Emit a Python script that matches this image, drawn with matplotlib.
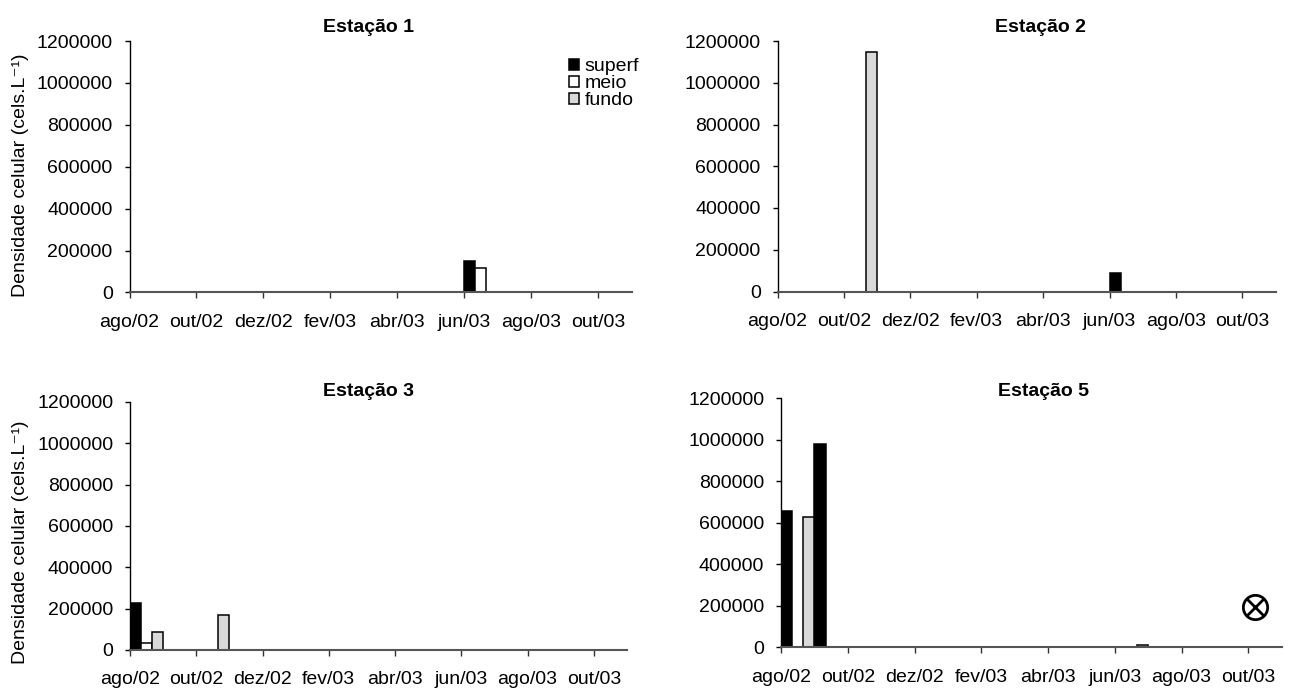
import matplotlib
matplotlib.use('Agg')
import matplotlib.pyplot as plt
from matplotlib.patches import Patch
from matplotlib.ticker import FuncFormatter
import numpy as np

plt.rcParams['font.family'] = ['Liberation Sans', 'DejaVu Sans']

# ---------------- data ----------------
months = ['ago/02', 'set/02', 'out/02', 'nov/02', 'dez/02', 'jan/03', 'fev/03',
          'mar/03', 'abr/03', 'mai/03', 'jun/03', 'jul/03', 'ago/03', 'set/03', 'out/03']
tick_labels = ['ago/02', 'out/02', 'dez/02', 'fev/03', 'abr/03', 'jun/03', 'ago/03', 'out/03']
series_names = ['superf', 'meio', 'fundo']

# Estação 1
e1_superf = [0, 0, 0, 0, 0, 0, 0, 0, 0, 0, 148000, 0, 0, 0, 0]
e1_meio   = [0, 0, 0, 0, 0, 0, 0, 0, 0, 0, 119000, 0, 0, 0, 0]
e1_fundo  = [0, 0, 0, 0, 0, 0, 0, 0, 0, 0, 0, 0, 0, 0, 0]
# Estação 2
e2_superf = [0, 0, 0, 0, 0, 0, 0, 0, 0, 0, 88000, 0, 0, 0, 0]
e2_meio   = [0, 0, 0, 0, 0, 0, 0, 0, 0, 0, 0, 0, 0, 0, 0]
e2_fundo  = [0, 0, 1146000, 0, 0, 0, 0, 0, 0, 0, 0, 0, 0, 0, 0]
# Estação 3
e3_superf = [226000, 0, 0, 0, 0, 0, 0, 0, 0, 0, 0, 0, 0, 0, 0]
e3_meio   = [32000, 0, 0, 0, 0, 0, 0, 0, 0, 0, 0, 0, 0, 0, 0]
e3_fundo  = [86000, 0, 169000, 0, 0, 0, 0, 0, 0, 0, 0, 0, 0, 0, 0]
# Estação 5
e5_superf = [657000, 980000, 0, 0, 0, 0, 0, 0, 0, 0, 0, 0, 0, 0, 0]
e5_meio   = [0, 0, 0, 0, 0, 0, 0, 0, 0, 0, 0, 0, 0, 0, 0]
e5_fundo  = [628000, 0, 0, 0, 0, 0, 0, 0, 0, 0, 10000, 0, 0, 0, 0]
# marker "sem coleta" (⊗) in Estação 5
e5_mark_month = 14.2
e5_mark_value = 196000

# ---------------- styles ----------------
W, H = 1293, 688
FS = 14
styles = [dict(facecolor='black', edgecolor='black'),
          dict(facecolor='white', edgecolor='black'),
          dict(facecolor='#d9d9d9', edgecolor='black')]
bw = 1.0 / 3.0

fig = plt.figure(figsize=(W / 100, H / 100), dpi=100)


def px_axes(l, t, r, b):
    return fig.add_axes([l / W, 1 - b / H, (r - l) / W, (b - t) / H])


def draw(ax, series):
    x = np.arange(len(months))
    for k, (vals, st) in enumerate(zip(series, styles)):
        v = np.asarray(vals, dtype=float)
        m = v > 0
        ax.bar(x[m] + k * bw, v[m], width=bw, align='edge', linewidth=1.1,
               zorder=3, **st)
    ax.set_xlim(0, len(months))
    ax.set_ylim(0, 1200000)
    ax.set_yticks(np.arange(0, 1200001, 200000))
    ax.yaxis.set_major_formatter(FuncFormatter(lambda v, p: f'{int(v)}'))
    ax.set_xticks(x[::2])
    ax.set_xticklabels(tick_labels)
    for s in ('top', 'right'):
        ax.spines[s].set_visible(False)
    ax.spines['left'].set_color('black')
    ax.spines['left'].set_linewidth(1.0)
    ax.spines['bottom'].set_color('#555555')
    ax.spines['bottom'].set_linewidth(1.5)
    ax.spines['bottom'].set_zorder(4)
    ax.tick_params(axis='y', direction='out', length=3.6, width=1, pad=8.5,
                   labelsize=FS, colors='black')
    ax.tick_params(axis='x', direction='out', length=4.3, width=1, pad=11,
                   labelsize=FS, color='#333333', labelcolor='black')
    ax.patch.set_visible(False)


ax1 = px_axes(129.5, 41, 631.5, 292.5)
ax2 = px_axes(777.5, 41, 1275.5, 291.5)
ax3 = px_axes(130, 402, 627, 650)
ax5 = px_axes(781, 398.3, 1281.7, 647.3)

draw(ax1, [e1_superf, e1_meio, e1_fundo])
draw(ax2, [e2_superf, e2_meio, e2_fundo])
draw(ax3, [e3_superf, e3_meio, e3_fundo])
draw(ax5, [e5_superf, e5_meio, e5_fundo])

ax5.plot([e5_mark_month], [e5_mark_value], marker='o', ms=17.5, mfc='none',
         mec='black', mew=2, ls='none', clip_on=False, zorder=5)
ax5.plot([e5_mark_month], [e5_mark_value], marker='x', ms=12.5,
         mec='black', mew=2, ls='none', clip_on=False, zorder=5)

# titles
for txt, x, y in [('Estação 1', 368, 27), ('Estação 2', 1040, 27),
                  ('Estação 3', 368, 391), ('Estação 5', 1043, 391)]:
    fig.text(x / W, 1 - y / H, txt, ha='center', va='center',
             fontsize=14, fontweight='bold')

ylab = 'Densidade celular (cels.L⁻¹)'
fig.text(20.5 / W, 1 - 175 / H, ylab, rotation=90, ha='center', va='center', fontsize=FS)
fig.text(20.5 / W, 1 - 542 / H, ylab, rotation=90, ha='center', va='center', fontsize=FS)

handles = [Patch(linewidth=1.1, **st) for st in styles]
ax1.legend(handles, series_names, loc='upper left',
           bbox_to_anchor=(569 / W, 1 - 58 / H), bbox_transform=fig.transFigure,
           frameon=False, borderpad=0, borderaxespad=0, handlelength=0.5,
           handleheight=0.5, handletextpad=0.3, labelspacing=0.0, fontsize=FS)

fig.savefig('out.png', dpi=100)
